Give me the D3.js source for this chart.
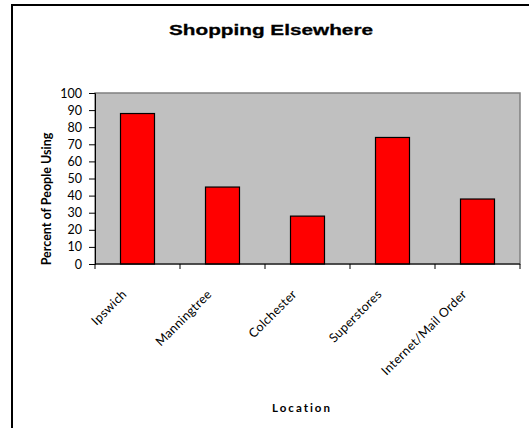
<!DOCTYPE html>
<html><head><meta charset="utf-8">
<script src="https://cdn.jsdelivr.net/npm/d3@7"></script>
<style>html,body{margin:0;background:#fff;overflow:hidden;} svg{display:block;overflow:hidden;}</style>
</head><body>
<svg id="c" width="529" height="428"></svg>
<script>
const categories = ["Ipswich","Manningtree","Colchester","Superstores","Internet/Mail Order"];
const values = [88, 45, 28, 74, 38];
const yTicks = [0,10,20,30,40,50,60,70,80,90,100];

const svg = d3.select("#c");
// chart-area border (only top and left edges fall inside the picture)
svg.append("path").attr("d","M12,428V5H529").attr("fill","none")
  .attr("stroke","#000").attr("stroke-width",2);

const L=95, R=520, T=93, B=264;
const x = d3.scaleBand().domain(categories).range([L,R]).paddingInner(0.6).paddingOuter(0.3);
const y = d3.scaleLinear().domain([0,100]).range([B,T]);

svg.append("rect").attr("x",L).attr("y",T).attr("width",R-L).attr("height",B-T)
  .attr("fill","#c0c0c0").attr("stroke","#808080").attr("stroke-width",1.5);

svg.selectAll("rect.bar").data(values).join("rect").attr("class","bar")
  .attr("x",(d,i)=>x(categories[i])).attr("width",x.bandwidth())
  .attr("y",d=>y(d)).attr("height",d=>B-y(d))
  .attr("fill","#ff0000").attr("stroke","#000").attr("stroke-width",1.2);

const font = "Lato, 'Open Sans', sans-serif";
const yAxis = d3.axisLeft(y).tickValues(yTicks).tickSize(6).tickPadding(7);
const gy = svg.append("g").attr("transform",`translate(${L},0)`).call(yAxis);
gy.selectAll("text").attr("font-family",font).attr("font-size",12.5).attr("fill","#000");
gy.select(".domain").attr("stroke","#000");

const step = x.step();
const edges = d3.range(categories.length+1).map(i=>L+i*step);
const gx = svg.append("g");
gx.append("line").attr("x1",L).attr("x2",R).attr("y1",B).attr("y2",B).attr("stroke","#000");
gx.selectAll("line.t").data(edges).join("line").attr("class","t")
  .attr("x1",d=>d).attr("x2",d=>d).attr("y1",B).attr("y2",B+5).attr("stroke","#000");
gx.selectAll("text").data(categories).join("text")
  .attr("transform",d=>`translate(${x(d)+x.bandwidth()/2-10},${295}) rotate(-45)`)
  .attr("text-anchor","end").attr("font-family",font).attr("font-size",12.5)
  .attr("letter-spacing",0.3).attr("fill","#000").text(d=>d);

svg.append("text").attr("x",271).attr("y",35).attr("text-anchor","middle")
  .attr("font-family","'Liberation Sans', Arial, sans-serif").attr("font-weight","bold")
  .attr("font-size",15.5).attr("stroke","#000").attr("stroke-width",0.3)
  .attr("textLength",204).attr("lengthAdjust","spacingAndGlyphs")
  .text("Shopping Elsewhere");

svg.append("text").attr("transform","translate(51,199) rotate(-90)").attr("text-anchor","middle")
  .attr("font-family",font).attr("font-weight","bold").attr("font-size",12.5).text("Percent of People Using");

svg.append("text").attr("x",302).attr("y",412).attr("text-anchor","middle")
  .attr("font-family",font).attr("font-weight","bold").attr("font-size",11.5)
  .attr("letter-spacing",2).text("Location");
</script>
</body></html>
